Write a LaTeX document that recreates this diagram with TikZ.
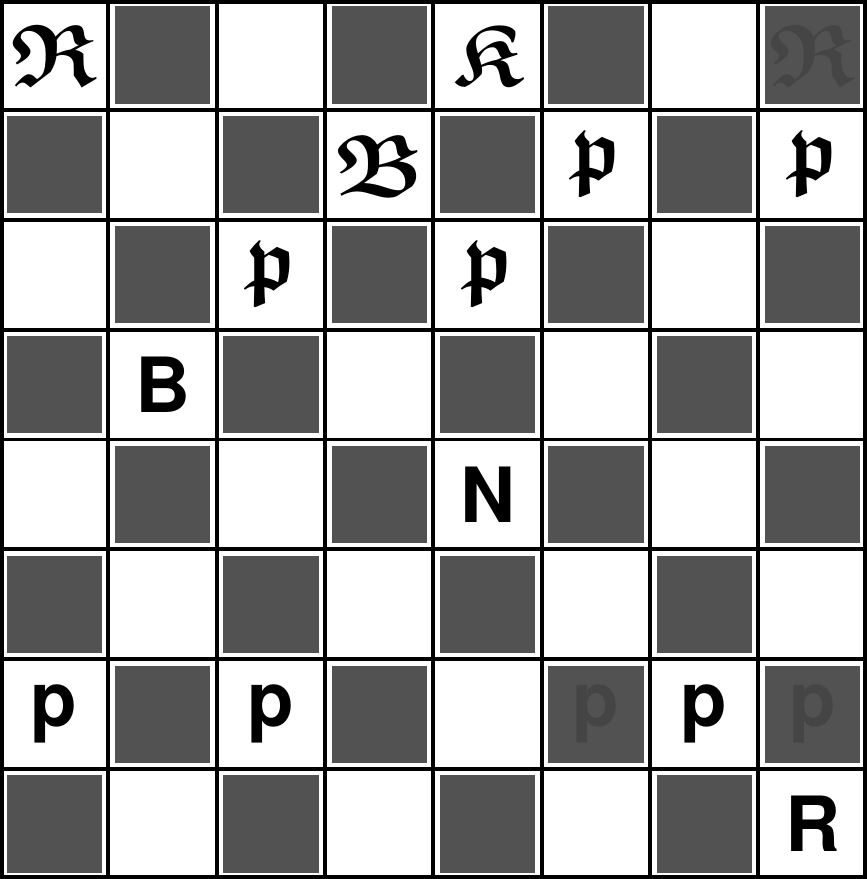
\documentclass[tikz,border=0pt]{standalone}
\usepackage{amsmath,amssymb}
\usepackage{graphicx}
\usepackage{fontspec}
\setsansfont{TeX Gyre Heros}
\usetikzlibrary{positioning}

% blackletter men, scaled up from the largest Euler size
\newcommand{\gothpc}[1]{\scalebox{3.0}{\fontsize{24.88}{28}\selectfont$\boldsymbol{\mathfrak{#1}}$}}

\begin{document}
\begin{tikzpicture}[
    x=3.25cm, y=3.296cm,
    darksq/.style={fill=black!68, draw=none, minimum width=2.86cm, minimum height=2.92cm, inner sep=0pt},
    grid/.style={line width=3.4pt, black},
    border/.style={line width=7pt, black},
    whitepc/.style={font=\fontsize{65}{70}\selectfont\sffamily\bfseries, inner sep=0pt},
    blackpc/.style={inner sep=0pt},
    hidden/.style={text=black!73}
]
\useasboundingbox (0,0) rectangle (8,8);
\fill[white] (0,0) rectangle (8,8);
% dark squares
\foreach \c in {0,...,7}
  \foreach \r in {0,...,7} {
    \pgfmathtruncatemacro\sqpar{mod(\c+\r,2)}
    \ifnum\sqpar=0
      \node[darksq] (sq-\c-\r) at (\c+0.5,\r+0.5) {};
    \fi
  }
% lines of the board
\foreach \i in {1,...,7} {
  \draw[grid] (\i,0) -- (\i,8);
  \draw[grid] (0,\i) -- (8,\i);
}
\draw[border] (0,0) rectangle (8,8);
% black pieces
\node[blackpc] (bR-a8) at (0.5,7.5) {\gothpc{R}};
\node[blackpc] (bK-e8) at (4.5,7.5) {\gothpc{K}};
\node[blackpc, hidden] (bR-h8) at (7.5,7.5) {\gothpc{R}};
\node[blackpc] (bB-d7) at (3.5,6.5) {\gothpc{B}};
\node[blackpc] (bp-f7) at (5.5,6.5) {\gothpc{p}};
\node[blackpc] (bp-h7) at (7.5,6.5) {\gothpc{p}};
\node[blackpc] (bp-c6) at (2.5,5.5) {\gothpc{p}};
\node[blackpc] (bp-e6) at (4.5,5.5) {\gothpc{p}};
% white pieces
\node[whitepc] (wB-b5) at (1.5,4.5) {B};
\node[whitepc] (wN-e4) at (4.5,3.5) {N};
\node[whitepc] (wp-a2) at (0.5,1.5) {p};
\node[whitepc] (wp-c2) at (2.5,1.5) {p};
\node[whitepc, hidden] (wp-f2) at (5.5,1.5) {p};
\node[whitepc] (wp-g2) at (6.5,1.5) {p};
\node[whitepc, hidden] (wp-h2) at (7.5,1.5) {p};
\node[whitepc] (wR-h1) at (7.5,0.5) {R};
\end{tikzpicture}
\end{document}
